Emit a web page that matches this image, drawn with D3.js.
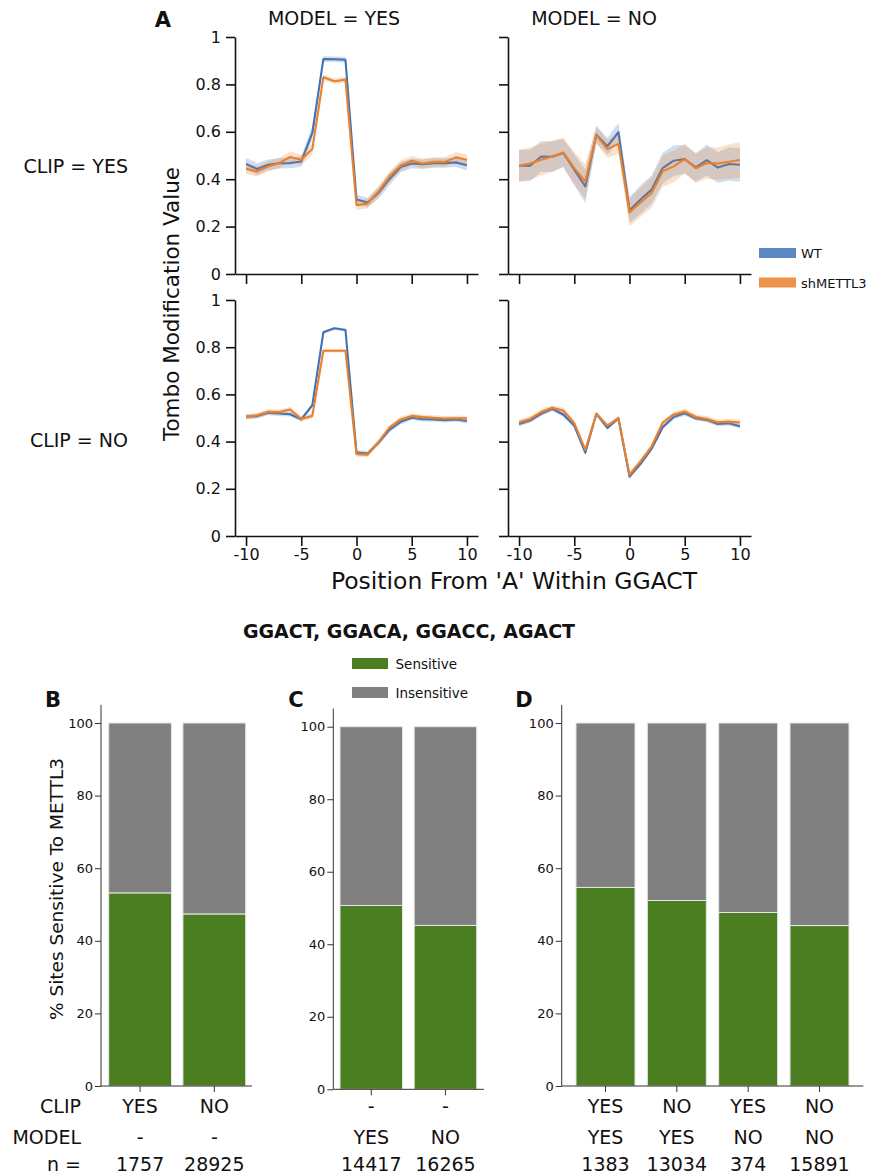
<!DOCTYPE html>
<html>
<head>
<meta charset="utf-8">
<script src="https://cdn.jsdelivr.net/npm/d3@7"></script>
<style>
  body { margin: 0; background: #fff; }
  svg { display: block; }
  text { font-family: "DejaVu Sans", sans-serif; fill: #111; }
</style>
</head>
<body>
<svg id="fig" width="869" height="1174"></svg>
<script>
// ---- Panel A: mean Tombo modification value by position (with 95% CI half-widths) ----
const positions = [-10, -9, -8, -7, -6, -5, -4, -3, -2, -1, 0, 1, 2, 3, 4, 5, 6, 7, 8, 9, 10];

// CLIP = YES, MODEL = YES
const wtClipYesModelYes   = [0.464, 0.443, 0.461, 0.467, 0.468, 0.475, 0.595, 0.907, 0.906, 0.904, 0.314, 0.302, 0.342, 0.401, 0.451, 0.466, 0.463, 0.468, 0.468, 0.471, 0.459];
const wtClipYesModelYesCI = [0.025, 0.025, 0.022, 0.022, 0.022, 0.022, 0.030, 0.012, 0.012, 0.012, 0.020, 0.020, 0.025, 0.025, 0.022, 0.020, 0.020, 0.020, 0.020, 0.020, 0.022];
const shClipYesModelYes   = [0.444, 0.433, 0.454, 0.468, 0.494, 0.482, 0.527, 0.830, 0.813, 0.820, 0.290, 0.297, 0.349, 0.412, 0.458, 0.478, 0.466, 0.473, 0.473, 0.492, 0.482];
const shClipYesModelYesCI = [0.022, 0.022, 0.022, 0.022, 0.022, 0.022, 0.025, 0.012, 0.012, 0.012, 0.020, 0.020, 0.022, 0.022, 0.022, 0.020, 0.020, 0.020, 0.020, 0.022, 0.022];

// CLIP = YES, MODEL = NO
const wtClipYesModelNo    = [0.457, 0.457, 0.496, 0.495, 0.511, 0.440, 0.370, 0.588, 0.539, 0.598, 0.269, 0.314, 0.356, 0.447, 0.478, 0.485, 0.450, 0.480, 0.449, 0.464, 0.461];
const wtClipYesModelNoCI  = [0.066, 0.066, 0.065, 0.065, 0.060, 0.065, 0.070, 0.035, 0.035, 0.040, 0.055, 0.060, 0.060, 0.065, 0.065, 0.060, 0.060, 0.065, 0.065, 0.070, 0.072];
const shClipYesModelNo    = [0.457, 0.466, 0.482, 0.496, 0.513, 0.447, 0.391, 0.586, 0.527, 0.549, 0.260, 0.302, 0.342, 0.433, 0.454, 0.485, 0.446, 0.468, 0.466, 0.474, 0.481];
const shClipYesModelNoCI  = [0.068, 0.068, 0.066, 0.066, 0.062, 0.068, 0.072, 0.038, 0.038, 0.042, 0.058, 0.062, 0.062, 0.066, 0.066, 0.062, 0.062, 0.066, 0.068, 0.072, 0.075];

// CLIP = NO, MODEL = YES
const wtClipNoModelYes    = [0.505, 0.508, 0.522, 0.519, 0.516, 0.494, 0.554, 0.863, 0.880, 0.873, 0.354, 0.349, 0.395, 0.451, 0.484, 0.501, 0.495, 0.494, 0.491, 0.494, 0.487];
const wtClipNoModelYesCI  = [0.010, 0.010, 0.010, 0.010, 0.010, 0.010, 0.010, 0.006, 0.006, 0.006, 0.010, 0.010, 0.010, 0.010, 0.010, 0.010, 0.010, 0.010, 0.010, 0.010, 0.010];
const shClipNoModelYes    = [0.505, 0.511, 0.526, 0.525, 0.536, 0.496, 0.509, 0.785, 0.785, 0.785, 0.347, 0.345, 0.399, 0.460, 0.494, 0.509, 0.504, 0.501, 0.498, 0.499, 0.499];
const shClipNoModelYesCI  = [0.011, 0.011, 0.011, 0.011, 0.011, 0.011, 0.011, 0.007, 0.007, 0.007, 0.011, 0.011, 0.011, 0.011, 0.011, 0.011, 0.011, 0.011, 0.011, 0.011, 0.011];

// CLIP = NO, MODEL = NO
const wtClipNoModelNo     = [0.475, 0.489, 0.518, 0.539, 0.515, 0.468, 0.353, 0.518, 0.458, 0.498, 0.252, 0.306, 0.370, 0.461, 0.504, 0.520, 0.499, 0.492, 0.475, 0.478, 0.465];
const wtClipNoModelNoCI   = [0.010, 0.010, 0.010, 0.010, 0.010, 0.010, 0.010, 0.008, 0.008, 0.008, 0.010, 0.010, 0.010, 0.010, 0.010, 0.010, 0.010, 0.010, 0.010, 0.010, 0.010];
const shClipNoModelNo     = [0.482, 0.496, 0.525, 0.543, 0.532, 0.478, 0.365, 0.518, 0.468, 0.499, 0.260, 0.316, 0.379, 0.480, 0.515, 0.528, 0.504, 0.496, 0.482, 0.485, 0.481];
const shClipNoModelNoCI   = [0.012, 0.012, 0.012, 0.012, 0.012, 0.012, 0.012, 0.009, 0.009, 0.009, 0.012, 0.012, 0.012, 0.012, 0.012, 0.012, 0.012, 0.012, 0.012, 0.012, 0.012];

const yTicksA = [0, 0.2, 0.4, 0.6, 0.8, 1];
const xTicksA = [-10, -5, 0, 5, 10];
const seriesNames = ["WT", "shMETTL3"];

// ---- Panels B-D: share of sites sensitive to METTL3 ----
const bClip = ["YES", "NO"];
const bModel = ["-", "-"];
const bN = ["1757", "28925"];
const bSensitive = [53.2, 47.4];

const cClip = ["-", "-"];
const cModel = ["YES", "NO"];
const cN = ["14417", "16265"];
const cSensitive = [50.7, 45.2];

const dClip = ["YES", "NO", "YES", "NO"];
const dModel = ["YES", "YES", "NO", "NO"];
const dN = ["1383", "13034", "374", "15891"];
const dSensitive = [54.7, 51.1, 47.8, 44.2];

const yTicksBar = [0, 20, 40, 60, 80, 100];
const stackKeys = ["Sensitive", "Insensitive"];

// ---- styling ----
const wtColor = "#3f72b8";
const shColor = "#e8802c";
const greenColor = "#4a7e21";
const grayColor = "#808080";

const svg = d3.select("#fig");

// ================= Panel A =================
const panels = [
  { wt: wtClipYesModelYes, wtCI: wtClipYesModelYesCI, sh: shClipYesModelYes, shCI: shClipYesModelYesCI,
    x0: 235, x1: 478, yTop: 37, yBot: 274, yLabels: true, xLabels: false },
  { wt: wtClipYesModelNo, wtCI: wtClipYesModelNoCI, sh: shClipYesModelNo, shCI: shClipYesModelNoCI,
    x0: 508, x1: 751, yTop: 37, yBot: 274, yLabels: false, xLabels: false },
  { wt: wtClipNoModelYes, wtCI: wtClipNoModelYesCI, sh: shClipNoModelYes, shCI: shClipNoModelYesCI,
    x0: 235, x1: 478, yTop: 300, yBot: 536, yLabels: true, xLabels: true },
  { wt: wtClipNoModelNo, wtCI: wtClipNoModelNoCI, sh: shClipNoModelNo, shCI: shClipNoModelNoCI,
    x0: 508, x1: 751, yTop: 300, yBot: 536, yLabels: false, xLabels: true }
];

panels.forEach(p => {
  const x = d3.scaleLinear().domain([-11, 11]).range([p.x0, p.x1]);
  const y = d3.scaleLinear().domain([0, 1]).range([p.yBot, p.yTop]);
  const g = svg.append("g");

  const area = d3.area()
    .x((d, i) => x(positions[i]))
    .y0(d => y(d[0] - d[1]))
    .y1(d => y(d[0] + d[1]));
  const line = d3.line()
    .x((d, i) => x(positions[i]))
    .y(d => y(d));

  [[p.wt, p.wtCI, wtColor], [p.sh, p.shCI, shColor]].forEach(([vals, ci, col]) => {
    g.append("path")
      .datum(vals.map((v, i) => [v, ci[i]]))
      .attr("d", area)
      .attr("fill", col)
      .attr("fill-opacity", 0.24)
      .attr("stroke", "none");
    g.append("path")
      .datum(vals)
      .attr("d", line)
      .attr("fill", "none")
      .attr("stroke", col)
      .attr("stroke-width", 2.1)
      .attr("stroke-linejoin", "round");
  });

  const yAxis = d3.axisLeft(y)
    .tickValues(yTicksA)
    .tickSize(9)
    .tickSizeOuter(0)
    .tickPadding(5)
    .tickFormat(d => p.yLabels ? (d === 0 ? "0" : d === 1 ? "1" : d.toFixed(1)) : "");
  const ya = g.append("g").attr("transform", `translate(${p.x0},0)`).call(yAxis);

  const xAxis = d3.axisBottom(x)
    .tickValues(xTicksA)
    .tickSize(10)
    .tickSizeOuter(0)
    .tickPadding(3)
    .tickFormat(d => p.xLabels ? String(d) : "");
  const xa = g.append("g").attr("transform", `translate(0,${p.yBot})`).call(xAxis);

  [ya, xa].forEach(a => {
    a.selectAll("path.domain").attr("stroke", "#111").attr("stroke-width", 1.6);
    a.selectAll(".tick line").attr("stroke", "#111").attr("stroke-width", 1.6);
    a.selectAll(".tick text").style("font-family", "DejaVu Sans").style("font-size", "16px").attr("fill", "#111");
  });
});

// facet headers and row labels
svg.append("text").attr("x", 163).attr("y", 27).attr("text-anchor", "middle")
  .style("font-size", "21px").style("font-weight", "bold").text("A");
svg.append("text").attr("x", 334).attr("y", 25).attr("text-anchor", "middle")
  .style("font-size", "19px").text("MODEL = YES");
svg.append("text").attr("x", 594).attr("y", 25).attr("text-anchor", "middle")
  .style("font-size", "19px").text("MODEL = NO");
svg.append("text").attr("x", 128).attr("y", 173).attr("text-anchor", "end")
  .style("font-size", "19px").text("CLIP = YES");
svg.append("text").attr("x", 128).attr("y", 447).attr("text-anchor", "end")
  .style("font-size", "19px").text("CLIP = NO");

svg.append("text")
  .attr("transform", "translate(179,304) rotate(-90)")
  .attr("text-anchor", "middle")
  .style("font-size", "21.5px").text("Tombo Modification Value");
svg.append("text").attr("x", 514).attr("y", 589).attr("text-anchor", "middle")
  .style("font-size", "23.5px").text("Position From 'A' Within GGACT");

// legend for panel A
const legA = svg.append("g");
seriesNames.forEach((name, i) => {
  const yy = 248 + i * 29.5;
  legA.append("rect").attr("x", 759).attr("y", yy).attr("width", 37).attr("height", 10)
    .attr("fill", i === 0 ? wtColor : shColor).attr("fill-opacity", 0.85);
  legA.append("text").attr("x", 801).attr("y", yy + 10).style("font-size", "13px").text(name);
});

// ================= Panels B-D =================
svg.append("text").attr("x", 409).attr("y", 638).attr("text-anchor", "middle")
  .style("font-size", "19px").style("font-weight", "bold").text("GGACT, GGACA, GGACC, AGACT");

// legend for stacked bars
stackKeys.forEach((k, i) => {
  const yy = 658 + i * 29;
  svg.append("rect").attr("x", 352).attr("y", yy).attr("width", 36).attr("height", 11)
    .attr("fill", i === 0 ? greenColor : grayColor);
  svg.append("text").attr("x", 395.5).attr("y", yy + 11).style("font-size", "13.5px").text(k);
});

const barCharts = [
  { letter: "B", letterX: 53, clip: bClip, model: bModel, n: bN, sens: bSensitive,
    axisX: 101, axisEnd: 252, barStart: 108.7, barEnd: 245.7, pad: 0.154, y0: 1086, y100: 723 },
  { letter: "C", letterX: 296, clip: cClip, model: cModel, n: cN, sens: cSensitive,
    axisX: 333.3, axisEnd: 484, barStart: 340, barEnd: 476.7, pad: 0.157, y0: 1089.3, y100: 726.7 },
  { letter: "D", letterX: 524, clip: dClip, model: dModel, n: dN, sens: dSensitive,
    axisX: 561.7, axisEnd: 863.3, barStart: 576, barEnd: 849, pad: 0.173, y0: 1086, y100: 723 }
];

barCharts.forEach(c => {
  const cats = c.clip.map((v, i) => `${v}|${c.model[i]}|${c.n[i]}`);
  const x = d3.scaleBand().domain(cats).range([c.barStart, c.barEnd])
    .paddingInner(c.pad).paddingOuter(0);
  const y = d3.scaleLinear().domain([0, 100]).range([c.y0, c.y100]);
  const g = svg.append("g");

  const rows = cats.map((k, i) => ({ key: k, Sensitive: c.sens[i], Insensitive: 100 - c.sens[i] }));
  const stacked = d3.stack().keys(stackKeys)(rows);

  g.selectAll("g.layer").data(stacked).join("g")
    .attr("fill", d => d.key === "Sensitive" ? greenColor : grayColor)
    .selectAll("rect").data(d => d).join("rect")
    .attr("x", d => x(d.data.key))
    .attr("width", x.bandwidth())
    .attr("y", d => y(d[1]))
    .attr("height", d => y(d[0]) - y(d[1]))
    .attr("stroke", "#e6e6e6")
    .attr("stroke-width", 1);

  // y axis, extended slightly above 100
  const yAxis = d3.axisLeft(y).tickValues(yTicksBar).tickSize(6).tickSizeOuter(0).tickPadding(2);
  const ya = g.append("g").attr("transform", `translate(${c.axisX},0)`).call(yAxis);
  ya.select("path.domain").remove();
  g.append("line").attr("x1", c.axisX).attr("x2", c.axisX)
    .attr("y1", c.y0).attr("y2", y(105)).attr("stroke", "#333").attr("stroke-width", 1);
  ya.selectAll(".tick line").attr("stroke", "#333");
  ya.selectAll(".tick text").style("font-family", "DejaVu Sans").style("font-size", "13px").attr("fill", "#222");

  // x axis baseline with a tick under every bar
  g.append("line").attr("x1", c.axisX).attr("x2", c.axisEnd)
    .attr("y1", c.y0).attr("y2", c.y0).attr("stroke", "#333").attr("stroke-width", 1);
  g.selectAll("line.xtick").data(cats).join("line").attr("class", "xtick")
    .attr("x1", d => x(d) + x.bandwidth() / 2).attr("x2", d => x(d) + x.bandwidth() / 2)
    .attr("y1", c.y0).attr("y2", c.y0 + 6).attr("stroke", "#333").attr("stroke-width", 1);

  // category rows under the bars
  [[c.clip, 1113], [c.model, 1144], [c.n, 1171]].forEach(([labels, yy]) => {
    g.selectAll(null).data(labels).join("text")
      .attr("x", (d, i) => x(cats[i]) + x.bandwidth() / 2)
      .attr("y", yy)
      .attr("text-anchor", "middle")
      .style("font-size", "19px")
      .text(d => d);
  });

  svg.append("text").attr("x", c.letterX).attr("y", 707).attr("text-anchor", "middle")
    .style("font-size", "21px").style("font-weight", "bold").text(c.letter);
});

// row titles and y label for the bar panels
[["CLIP", 1113], ["MODEL", 1144], ["n =", 1171]].forEach(([t, yy]) => {
  svg.append("text").attr("x", 81).attr("y", yy).attr("text-anchor", "end")
    .style("font-size", "19px").text(t);
});
svg.append("text")
  .attr("transform", "translate(63,889) rotate(-90)")
  .attr("text-anchor", "middle")
  .style("font-size", "18.5px").text("% Sites Sensitive To METTL3");
</script>
</body>
</html>
